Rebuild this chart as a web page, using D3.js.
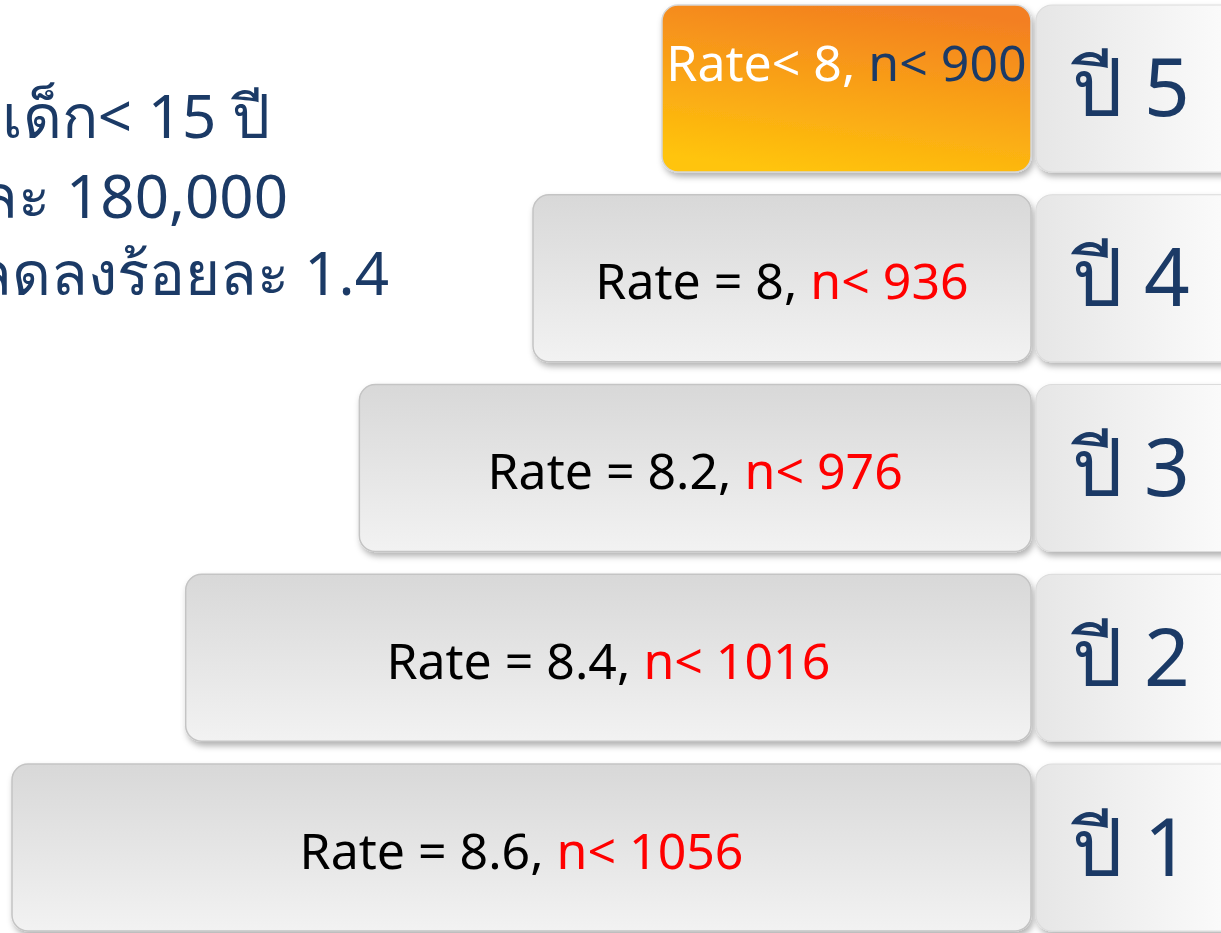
<!DOCTYPE html>
<html><head><meta charset="utf-8">
<script src="https://cdn.jsdelivr.net/npm/d3@7"></script>
<style>html,body{margin:0;padding:0;background:#fff;overflow:hidden}</style>
</head><body><svg id="chart" width="1221" height="933"></svg>
<script>
// ---- data ----
const years = ["ปี 5", "ปี 4", "ปี 3", "ปี 2", "ปี 1"];
const rateOps = ["<", "=", "=", "=", "="];
const rateValues = [8, 8, 8.2, 8.4, 8.6];
const nValues = [900, 936, 976, 1016, 1056];
const introLines = ["เด็ก< 15 ปี", "ปีละ 180,000", "ลดลงร้อยละ 1.4"];

const rows = years.map((y, i) => ({year: y, op: rateOps[i], rate: rateValues[i], n: nValues[i], target: i === 0}));

const W = 1221, H = 933;
const FONT = "'Noto Sans', Tahoma, 'DejaVu Sans', sans-serif";
const NAVY = "#1b3a66";
const svg = d3.select("#chart");
const defs = svg.append("defs");

const gGray = defs.append("linearGradient").attr("id", "gGray").attr("x1", 0).attr("y1", 0).attr("x2", 0).attr("y2", 1);
gGray.append("stop").attr("offset", "0%").attr("stop-color", "#d8d8d8");
gGray.append("stop").attr("offset", "100%").attr("stop-color", "#f2f2f2");

const gOrange = defs.append("linearGradient").attr("id", "gOrange").attr("x1", 0.35).attr("y1", 1).attr("x2", 0.65).attr("y2", 0);
gOrange.append("stop").attr("offset", "0%").attr("stop-color", "#ffc40c");
gOrange.append("stop").attr("offset", "100%").attr("stop-color", "#f37f21");

const gYear = defs.append("linearGradient").attr("id", "gYear").attr("x1", 0).attr("y1", 0).attr("x2", 1).attr("y2", 0);
gYear.append("stop").attr("offset", "0%").attr("stop-color", "#e6e6e6");
gYear.append("stop").attr("offset", "100%").attr("stop-color", "#ffffff");

const sh = defs.append("filter").attr("id", "shadow").attr("x", "-10%").attr("y", "-10%").attr("width", "130%").attr("height", "140%");
sh.append("feDropShadow").attr("dx", 2).attr("dy", 4).attr("stdDeviation", 3).attr("flood-color", "#000").attr("flood-opacity", 0.3);

// ---- scales ----
const xLeft = d3.scaleLinear().domain([1056, 936, 900]).range([12, 533, 662]);
const xRight = 1031;
const yearX = 1036;
const y = d3.scaleBand().domain(years).range([5, 931]).paddingInner(0.12).paddingOuter(0);

// ---- intro text (clipped on the left like the reference) ----
const introEnds = [270, 288, 389];
const introBase = [138, 218, 295];
svg.append("g").selectAll("text").data(introLines).join("text")
  .attr("x", (d, i) => introEnds[i]).attr("y", (d, i) => introBase[i])
  .attr("text-anchor", "end").attr("font-family", FONT).attr("font-size", 60)
  .attr("fill", NAVY).text(d => d);

// ---- rows ----
const g = svg.append("g").selectAll("g").data(rows).join("g");

g.append("rect")
  .attr("x", d => xLeft(d.n)).attr("y", d => y(d.year))
  .attr("width", d => xRight - xLeft(d.n)).attr("height", y.bandwidth())
  .attr("rx", 16).attr("ry", 16)
  .attr("fill", d => d.target ? "url(#gOrange)" : "url(#gGray)")
  .attr("stroke", d => d.target ? "#d6d6d6" : "#c4c4c4").attr("stroke-width", 1.5)
  .attr("filter", "url(#shadow)");

g.append("rect")
  .attr("x", yearX).attr("y", d => y(d.year))
  .attr("width", 230).attr("height", y.bandwidth())
  .attr("rx", 16).attr("ry", 16)
  .attr("fill", "url(#gYear)")
  .attr("stroke", "#dcdcdc").attr("stroke-width", 1.2)
  .attr("filter", "url(#shadow)");

g.append("text")
  .attr("x", yearX + 95).attr("y", d => y(d.year) + y.bandwidth() / 2 + 28)
  .attr("text-anchor", "middle").attr("font-family", FONT).attr("font-size", 80)
  .attr("fill", NAVY).text(d => d.year);

const lab = g.append("text")
  .attr("x", d => (xLeft(d.n) + xRight) / 2)
  .attr("y", d => d.target ? y(d.year) + 76 : y(d.year) + y.bandwidth() / 2 + 21)
  .attr("text-anchor", "middle").attr("font-family", FONT).attr("font-size", 50);
lab.append("tspan")
  .attr("fill", d => d.target ? "#ffffff" : "#000000")
  .text(d => d.op === "<" ? `Rate< ${d.rate}, ` : `Rate = ${d.rate}, `);
lab.append("tspan")
  .attr("fill", d => d.target ? NAVY : "#ff0000")
  .text(d => `n< ${d.n}`);
</script>
</body></html>
